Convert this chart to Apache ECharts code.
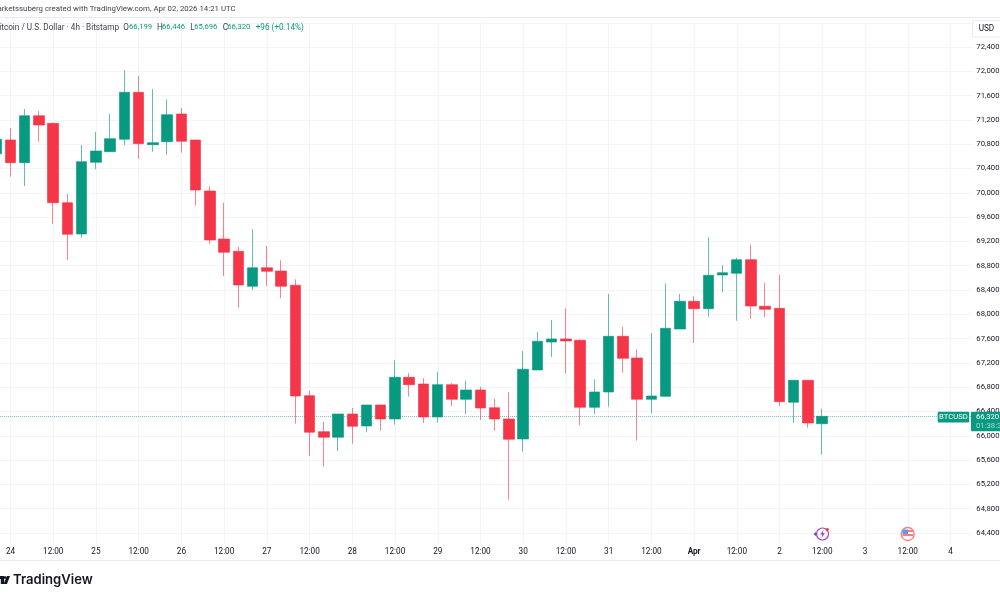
<!DOCTYPE html>
<html>
<head>
<meta charset="utf-8">
<style>html,body{margin:0;padding:0;background:#fff;overflow:hidden}#c{width:1000px;height:600px}</style>
<script src="https://cdn.jsdelivr.net/npm/echarts@6/dist/echarts.min.js"></script>
</head>
<body>
<div id="c"></div>
<script>
const opens = [70644,70869,70496,71269,71144,69837,69322,70502,70677,70881,71654,70792,70841,71297,70869,70030,69240,69037,68461,68767,68713,68478,66661,66068,65976,66359,66162,66507,66277,66963,66853,66310,66842,66601,66754,66463,66277,65948,67083,67544,67594,67572,66469,66721,67638,67281,66601,66650,67758,68214,68092,68647,68675,68899,68132,68099,66553,66914,66199];
const closes = [70881,70496,71269,71116,69837,69317,70512,70688,70891,71654,70808,70825,71286,70848,70046,69223,69021,68483,68767,68708,68461,66655,66058,65976,66359,66157,66507,66277,66963,66842,66310,66842,66601,66754,66458,66277,65943,67095,67556,67594,67561,66469,66721,67638,67276,66601,66655,67770,68214,68092,68642,68685,68899,68137,68083,66562,66914,66211,66320];
const highs = [70984,71067,71379,71347,71154,69980,70787,71001,71297,72021,71923,71709,71539,71396,70869,70107,69837,69108,69404,69124,68889,68576,66738,66227,66359,66458,66507,66507,67243,67034,66947,67055,66869,66907,66809,66606,66721,67396,67714,67906,68099,67585,66930,68334,67791,67424,67692,68511,68334,68297,69268,68812,68932,69146,68520,68647,66914,66914,66446];
const lows = [70573,70265,70112,70841,69487,68894,69261,70387,70677,70787,70561,70677,70627,70660,69788,69162,68631,68109,68395,68466,68264,66200,65668,65492,65750,65870,66058,66084,66183,66644,66211,66216,66491,66359,66260,66084,64949,65739,67083,67297,67029,66178,66359,66479,67039,65920,66371,66650,67758,67528,67961,68362,67895,67923,67956,66491,66211,66134,65696];
const lastPrice = 66320;
const priceMin = 64400, priceMax = 72400, priceStep = 400;
const fourHours = 4 * 3600 * 1000;
const axisStart = Date.UTC(2026, 2, 24, 0);
const axisSlots = 68;
const times = Array.from({length: axisSlots}, (_, i) => new Date(axisStart + i * fourHours));
const categories = times.map(d => d.toISOString().slice(5, 16));
const GREEN = '#089981', RED = '#F43648', INK = '#131722', GRID = '#f3f4f6', EDGE = '#e9eaee';
const FONT = 'Roboto';
const plotWidth = 971.84, slotPx = 14.24, firstLabelPx = 10.5;
const slotMin = 1 - firstLabelPx / slotPx;
const slotMax = slotMin + plotWidth / slotPx;

function isMajor(i){ return times[i].getUTCHours() % 12 === 0; }
function timeLabel(i){
  const d = times[i];
  if (d.getUTCHours() === 12) return '12:00';
  if (d.getUTCHours() !== 0) return '';
  if (d.getUTCDate() === 1) return '{b|Apr}';
  return String(d.getUTCDate());
}
function txt(x, y, text, fill, align, size, weight, family){
  return {type:'text', silent:true, z:20, style:{x, y, text, fill, align:align||'left', verticalAlign:'middle',
    font:(weight||'normal')+' '+(size||8.2)+'px '+(family||FONT)}};
}
const chart = echarts.init(document.getElementById('c'), null, {renderer:'canvas'});
chart.setOption({
  animation:false,
  backgroundColor:'#fff',
  grid:[
    {left:0, right:28.16, top:47, bottom:67, outerBoundsMode:'none'},
    {left:3.38, right:28.16, top:23, bottom:57, outerBoundsMode:'none'}
  ],
  xAxis:[
    {type:'value', gridIndex:0, min:slotMin, max:slotMax, show:false, containShape:false, splitLine:{show:false}},
    {type:'category', gridIndex:1, data:categories,
      axisLine:{show:false}, axisTick:{show:false},
      axisLabel:{interval:(i)=>isMajor(i), formatter:(v,i)=>timeLabel(i), color:INK, fontFamily:FONT, fontSize:8.2, margin:4.5,
        showMinLabel:true, showMaxLabel:true, hideOverlap:false,
        rich:{b:{fontWeight:'bold', fontFamily:FONT, fontSize:8.2, color:INK}}},
      splitLine:{show:true, alignWithLabel:true, interval:(i)=>isMajor(i), lineStyle:{color:GRID, width:1}}}
  ],
  yAxis:[
    {type:'value', gridIndex:0, position:'right', min:priceMin, max:priceMax, interval:priceStep, scale:true,
      axisLine:{show:false}, axisTick:{show:false},
      axisLabel:{color:INK, fontFamily:FONT, fontSize:7.7, margin:4.5, formatter:(v)=>v.toLocaleString('en-US')},
      splitLine:{show:true, lineStyle:{color:GRID, width:1}}},
    {type:'value', gridIndex:1, min:0, max:1, show:false, splitLine:{show:false}}
  ],
  series:[{
    type:'candlestick', xAxisIndex:0, yAxisIndex:0, barWidth:11,
    encode:{x:0, y:[1,2,3,4]},
    data:opens.map((o,i)=>[i, o, closes[i], lows[i], highs[i]]),
    itemStyle:{color:GREEN, color0:RED, borderColor:'rgba(8,153,129,.62)', borderColor0:'rgba(244,54,72,.62)', borderWidth:1},
    markLine:{silent:true, symbol:'none', z:1, label:{show:false},
      lineStyle:{color:GREEN, type:'dotted', width:1, opacity:.55}, data:[{yAxis:lastPrice}]}
  }],
  graphic:[
    {type:'line', silent:true, z:1, shape:{x1:0,y1:17.5,x2:1000,y2:17.5}, style:{stroke:EDGE, lineWidth:1}},
    {type:'line', silent:true, z:1, shape:{x1:0,y1:23.5,x2:971,y2:23.5}, style:{stroke:GRID, lineWidth:1}},
    {type:'line', silent:true, z:1, shape:{x1:0,y1:560.5,x2:1000,y2:560.5}, style:{stroke:EDGE, lineWidth:1}},
    txt(235.7, 9.5, 'Marketssuberg created with TradingView.com, Apr 02, 2026 14:21 UTC', '#3f434f', 'right', 7.85),
    txt(119, 27.5, 'Bitcoin / U.S. Dollar · 4h · Bitstamp', '#3f434f', 'right'),
    txt(123.3, 27.5, 'O', '#3f434f'), txt(129, 27.5, '66,199', GREEN, 'left', 7.7),
    txt(157, 27.5, 'H', '#3f434f'), txt(162, 27.5, '66,446', GREEN, 'left', 7.7),
    txt(190.3, 27.5, 'L', '#3f434f'), txt(194.3, 27.5, '65,696', GREEN, 'left', 7.7),
    txt(222.7, 27.5, 'C', '#3f434f'), txt(227.3, 27.5, '66,320', GREEN, 'left', 7.7),
    txt(255.7, 27.5, '+96 (+0.14%)', GREEN),
    {type:'rect', silent:true, z:15, shape:{x:972.5,y:20.5,width:32,height:16.5,r:2}, style:{fill:'#fff', stroke:EDGE, lineWidth:1}},
    txt(978.7, 29, 'USD', INK),
    {type:'rect', silent:true, z:18, shape:{x:937.7,y:411.7,width:31.5,height:10.8,r:1}, style:{fill:GREEN}},
    txt(953.4, 417.3, 'BTCUSD', '#fff', 'center', 7.7),
    {type:'rect', silent:true, z:18, shape:{x:971,y:411.7,width:32,height:19.5,r:1}, style:{fill:GREEN}},
    txt(976, 417, '66,320', '#fff', 'left', 7.7),
    txt(976, 426, '01:38:39', '#a9dcd2', 'left', 7.7),
    {type:'polygon', silent:true, z:20, shape:{points:[[-2,576],[4.2,576],[4.2,584],[0.8,584],[0.8,579],[-2,579]]}, style:{fill:INK}},
    {type:'circle', silent:true, z:20, shape:{cx:5.2,cy:577.6,r:1.4}, style:{fill:INK}},
    {type:'polygon', silent:true, z:20, shape:{points:[[7,576],[10,576],[7,584],[3.6,584]]}, style:{fill:INK}},
    txt(13, 580.5, 'TradingView', INK, 'left', 13.1, '600', 'Inter'),
    {type:'circle', silent:true, z:20, shape:{cx:822.5,cy:534,r:6}, style:{fill:'#fff', stroke:'#ab47bc', lineWidth:1.2}},
    {type:'polygon', silent:true, z:21, shape:{points:[[823.5,530],[820.2,534.6],[822.3,534.6],[821.4,538],[825,533.2],[822.8,533.2]]}, style:{fill:'#9c3fd0'}},
    {type:'circle', silent:true, z:21, shape:{cx:827.3,cy:529.5,r:1.6}, style:{fill:'#f23645'}},
    {type:'polygon', silent:true, z:21, shape:{points:[[813.5,534],[815.5,532],[817.5,534],[815.5,536]]}, style:{fill:'#7e3ff2'}},
    {type:'circle', silent:true, z:20, shape:{cx:907.7,cy:534,r:6.5}, style:{fill:'#fff', stroke:'#f77c80', lineWidth:1.3}},
    {type:'rect', silent:true, z:21, shape:{x:902.5,y:530,width:10.5,height:2}, style:{fill:'#f77c80'}},
    {type:'rect', silent:true, z:21, shape:{x:902.5,y:534,width:10.5,height:2}, style:{fill:'#f77c80'}},
    {type:'rect', silent:true, z:22, shape:{x:902.5,y:529.5,width:5.5,height:4.5}, style:{fill:'#5a9be8'}}
  ]
});
</script>
</body>
</html>
